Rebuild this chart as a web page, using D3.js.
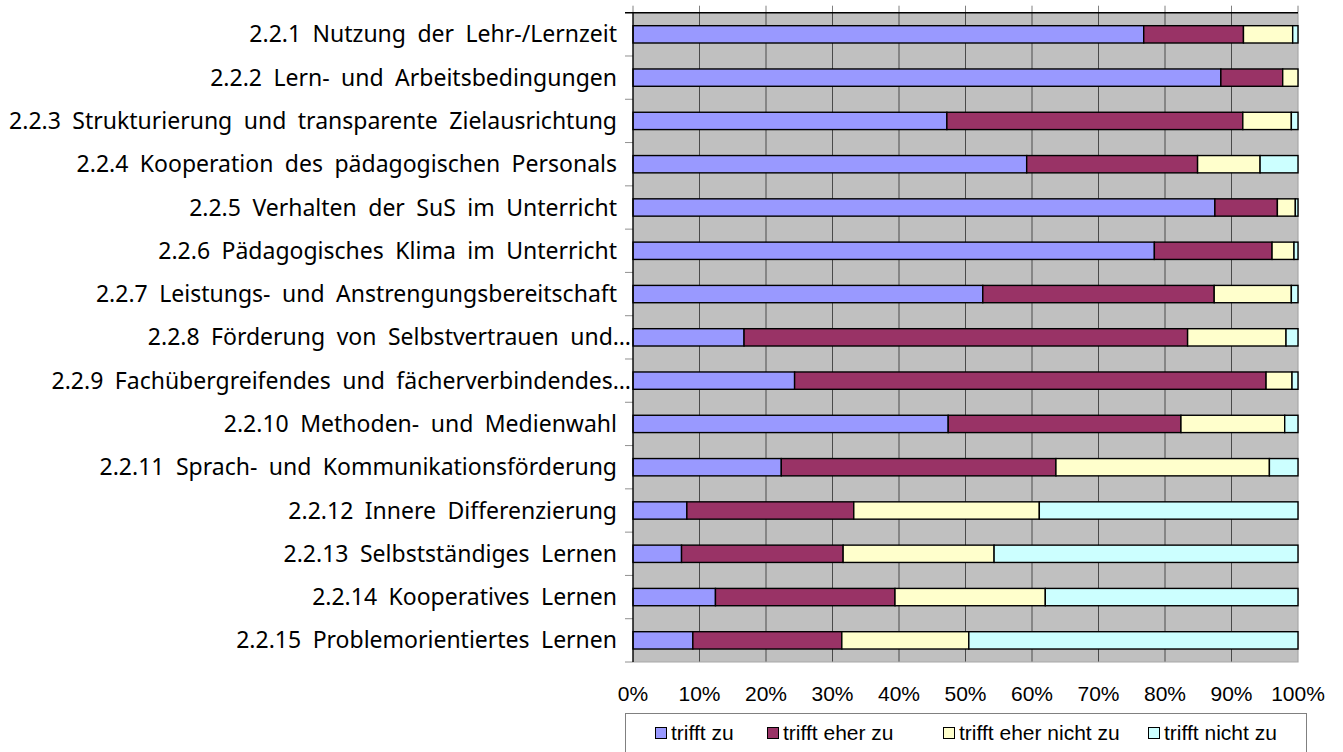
<!DOCTYPE html>
<html>
<head>
<meta charset="utf-8">
<script src="https://cdn.jsdelivr.net/npm/d3@7"></script>
<style>
  body { margin: 0; background: #ffffff; }
  svg { display: block; }
</style>
</head>
<body>
<script>
'use strict';

// chart data (percent of answers)
const categories = [
  "2.2.1 Nutzung der Lehr-/Lernzeit",
  "2.2.2 Lern- und Arbeitsbedingungen",
  "2.2.3 Strukturierung und transparente Zielausrichtung",
  "2.2.4 Kooperation des pädagogischen Personals",
  "2.2.5 Verhalten der SuS im Unterricht",
  "2.2.6 Pädagogisches Klima im Unterricht",
  "2.2.7 Leistungs- und Anstrengungsbereitschaft",
  "2.2.8 Förderung von Selbstvertrauen und…",
  "2.2.9 Fachübergreifendes und fächerverbindendes…",
  "2.2.10 Methoden- und Medienwahl",
  "2.2.11 Sprach- und Kommunikationsförderung",
  "2.2.12 Innere Differenzierung",
  "2.2.13 Selbstständiges Lernen",
  "2.2.14 Kooperatives Lernen",
  "2.2.15 Problemorientiertes Lernen"
];
const seriesNames = ["trifft zu", "trifft eher zu", "trifft eher nicht zu", "trifft nicht zu"];
const trifftZu         = [76.8, 88.4, 47.2, 59.2, 87.5, 78.4, 52.6, 16.7, 24.3, 47.4, 22.3,  8.1,  7.3, 12.4,  9.0];
const trifftEherZu     = [15.0,  9.3, 44.5, 25.7,  9.4, 17.7, 34.8, 66.7, 70.9, 35.0, 41.3, 25.1, 24.3, 27.0, 22.4];
const trifftEherNicht  = [ 7.4,  2.3,  7.3,  9.4,  2.7,  3.3, 11.6, 14.8,  3.9, 15.6, 32.1, 27.9, 22.7, 22.6, 19.1];
const trifftNichtZu    = [ 0.8,  0.0,  1.0,  5.7,  0.4,  0.6,  1.0,  1.8,  0.9,  2.0,  4.3, 38.9, 45.7, 38.0, 49.5];
const xTicks = [0, 10, 20, 30, 40, 50, 60, 70, 80, 90, 100];

const colors = ["#9999ff", "#993366", "#ffffcc", "#ccffff"];

(function() {

  let svg = "";
  let plot = {left: 633, right: 1298, top: 12.7, bottom: 662};

  window.onload = function() {
    svg = d3.select("body")
      .append("svg")
      .attr("width", 1343)
      .attr("height", 752);

    // build rows for d3.stack from the named arrays
    let rows = categories.map((c, i) => ({
      cat: c,
      "trifft zu": trifftZu[i],
      "trifft eher zu": trifftEherZu[i],
      "trifft eher nicht zu": trifftEherNicht[i],
      "trifft nicht zu": trifftNichtZu[i]
    }));

    let x = d3.scaleLinear().domain([0, 100]).range([plot.left, plot.right]);
    let y = d3.scaleBand()
      .domain(categories)
      .range([plot.top, plot.bottom])
      .paddingInner(0.6)
      .paddingOuter(0.3);

    drawPlotArea(x, y);

    let stacked = d3.stack().keys(seriesNames)(rows);

    let layer = svg.selectAll(".layer")
      .data(stacked)
      .enter().append("g")
        .attr("class", "layer")
        .style("fill", (d, i) => colors[i]);

    layer.selectAll("rect")
      .data((d) => d.filter((p) => p[1] - p[0] > 0))
      .enter().append("rect")
        .attr("x", (p) => x(p[0]))
        .attr("y", (p) => y(p.data.cat))
        .attr("width", (p) => x(p[1]) - x(p[0]))
        .attr("height", y.bandwidth())
        .style("stroke", "#000")
        .style("stroke-width", "1.4px");

    addAxes(x, y);
    addLegend();
  }

  // grey plot area, gridlines and borders
  function drawPlotArea(x, y) {
    svg.append("rect")
      .attr("x", plot.left)
      .attr("y", plot.top)
      .attr("width", plot.right - plot.left)
      .attr("height", plot.bottom - plot.top)
      .style("fill", "#c0c0c0");

    svg.append("g")
      .selectAll("line")
      .data(xTicks.slice(1, -1))
      .enter().append("line")
        .attr("x1", (d) => x(d))
        .attr("x2", (d) => x(d))
        .attr("y1", plot.top)
        .attr("y2", plot.bottom)
        .style("stroke", "#4a4a4a")
        .style("stroke-width", "1px");

    // right and bottom border, light
    svg.append("path")
      .attr("d", "M" + plot.right + "," + plot.top + "V" + plot.bottom + "H" + plot.left)
      .style("fill", "none")
      .style("stroke", "#a8a8a8")
      .style("stroke-width", "1.2px");
  }

  function addAxes(x, y) {
    // value axis: ticks at top, labels at bottom
    svg.append("g")
      .selectAll("line")
      .data(xTicks)
      .enter().append("line")
        .attr("x1", (d) => x(d))
        .attr("x2", (d) => x(d))
        .attr("y1", plot.top - 7)
        .attr("y2", plot.top)
        .style("stroke", "#808080")
        .style("stroke-width", "1px");

    svg.append("line")
      .attr("x1", plot.left - 8)
      .attr("x2", plot.right)
      .attr("y1", plot.top)
      .attr("y2", plot.top)
      .style("stroke", "#000")
      .style("stroke-width", "1.4px");

    svg.append("g")
      .selectAll("text")
      .data(xTicks)
      .enter().append("text")
        .attr("x", (d) => x(d))
        .attr("y", 701)
        .style("text-anchor", "middle")
        .style("font-family", "Liberation Sans, Arial, sans-serif")
        .style("font-size", "21px")
        .text((d) => d + "%");

    // category axis
    let step = y.step();
    svg.append("g")
      .selectAll("line")
      .data(d3.range(1, categories.length + 1))
      .enter().append("line")
        .attr("x1", plot.left - 8)
        .attr("x2", plot.left)
        .attr("y1", (i) => plot.top + i * step)
        .attr("y2", (i) => plot.top + i * step)
        .style("stroke", "#909090")
        .style("stroke-width", "1px");

    svg.append("line")
      .attr("x1", plot.left)
      .attr("x2", plot.left)
      .attr("y1", plot.top)
      .attr("y2", plot.bottom)
      .style("stroke", "#000")
      .style("stroke-width", "1.4px");

    svg.append("g")
      .selectAll("text")
      .data(categories)
      .enter().append("text")
        .attr("x", (d) => d.endsWith("…") ? plot.left - 2 : plot.left - 16)
        .attr("y", (d) => y(d) + y.bandwidth() / 2)
        .attr("dy", "0.35em")
        .style("text-anchor", "end")
        .style("font-family", "Noto Sans, sans-serif")
        .style("font-size", "23px")
        .style("word-spacing", "5.5px")
        .text((d) => d);
  }

  function addLegend() {
    let legend = svg.append("g")
      .attr("class", "legend");

    legend.append("rect")
      .attr("x", 625.5)
      .attr("y", 713.5)
      .attr("width", 681)
      .attr("height", 60)
      .style("fill", "#fff")
      .style("stroke", "#808080")
      .style("stroke-width", "1px");

    let itemX = [655, 767, 943, 1148];

    seriesNames.forEach((name, i) => {
      legend.append("rect")
        .attr("x", itemX[i] + 0.5)
        .attr("y", 727.5)
        .attr("width", 11)
        .attr("height", 11)
        .style("fill", colors[i])
        .style("stroke", "#000")
        .style("stroke-width", "1px");

      legend.append("text")
        .attr("x", itemX[i] + 16)
        .attr("y", 740)
        .style("font-family", "Liberation Sans, Arial, sans-serif")
        .style("font-size", "21px")
        .text(name);
    });
  }
})();
</script>
</body>
</html>
